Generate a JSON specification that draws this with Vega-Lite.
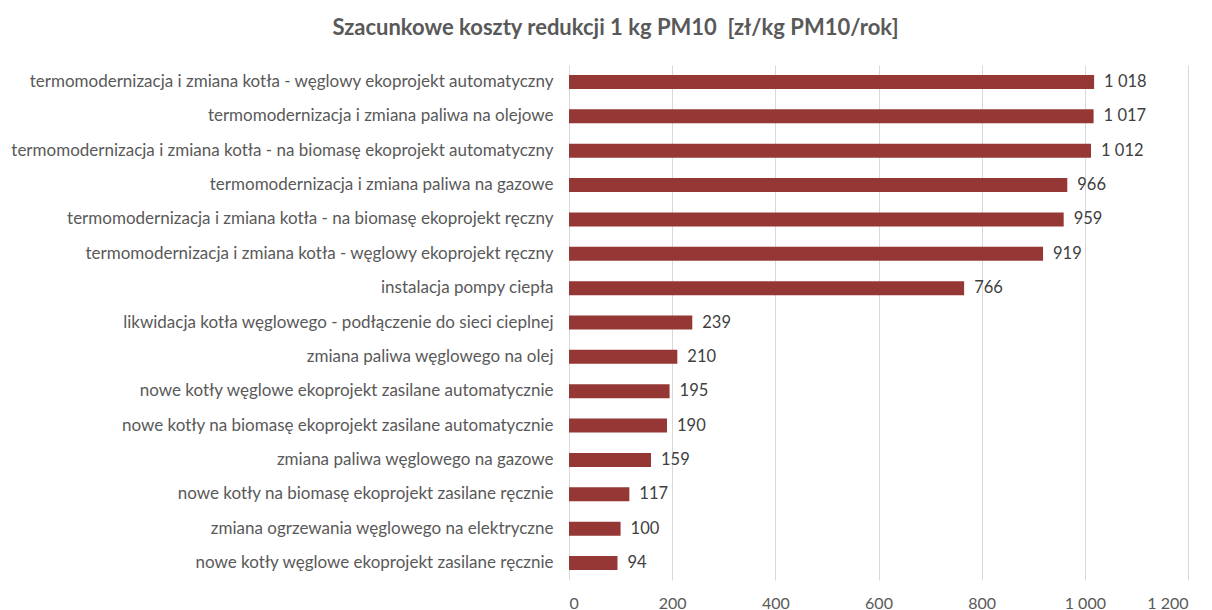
{
  "$schema": "https://vega.github.io/schema/vega-lite/v6.json",
  "width": 619,
  "height": 515,
  "autosize": {"type": "none"},
  "padding": {"left": 569, "top": 65, "right": 24, "bottom": 30},
  "background": "white",
  "title": {
    "text": "Szacunkowe koszty redukcji 1 kg PM10 \u00a0[zł/kg PM10/rok]",
    "font": "Lato",
    "fontSize": 22,
    "fontWeight": "bold",
    "color": "#595959",
    "anchor": "middle",
    "dx": -263,
    "offset": 25
  },
  "config": {
    "locale": {"number": {"decimal": ",", "thousands": " ", "grouping": [3], "currency": ["", " zł"]}},
    "view": {"stroke": null},
    "font": "Lato"
  },
  "data": {
    "values": [
      {"kategoria": "termomodernizacja i zmiana kotła - węglowy ekoprojekt automatyczny", "koszt": 1018},
      {"kategoria": "termomodernizacja i zmiana paliwa na olejowe", "koszt": 1017},
      {"kategoria": "termomodernizacja i zmiana kotła - na biomasę ekoprojekt automatyczny", "koszt": 1012},
      {"kategoria": "termomodernizacja i zmiana paliwa na gazowe", "koszt": 966},
      {"kategoria": "termomodernizacja i zmiana kotła - na biomasę ekoprojekt ręczny", "koszt": 959},
      {"kategoria": "termomodernizacja i zmiana kotła - węglowy ekoprojekt ręczny", "koszt": 919},
      {"kategoria": "instalacja pompy ciepła", "koszt": 766},
      {"kategoria": "likwidacja kotła węglowego - podłączenie do sieci cieplnej", "koszt": 239},
      {"kategoria": "zmiana paliwa węglowego na olej", "koszt": 210},
      {"kategoria": "nowe kotły węglowe ekoprojekt zasilane automatycznie", "koszt": 195},
      {"kategoria": "nowe kotły na biomasę ekoprojekt zasilane automatycznie", "koszt": 190},
      {"kategoria": "zmiana paliwa węglowego na gazowe", "koszt": 159},
      {"kategoria": "nowe kotły na biomasę ekoprojekt zasilane ręcznie", "koszt": 117},
      {"kategoria": "zmiana ogrzewania węglowego na elektryczne", "koszt": 100},
      {"kategoria": "nowe kotły węglowe ekoprojekt zasilane ręcznie", "koszt": 94}
    ]
  },
  "encoding": {
    "y": {
      "field": "kategoria",
      "type": "nominal",
      "sort": null,
      "scale": {"paddingInner": 0.593, "paddingOuter": 0.29},
      "axis": {
        "title": null,
        "domain": false,
        "ticks": false,
        "labelFont": "Lato",
        "labelFontSize": 17,
        "labelColor": "#595959",
        "labelPadding": 16,
        "labelLimit": 600
      }
    },
    "x": {
      "field": "koszt",
      "type": "quantitative",
      "scale": {"domain": [0, 1200]},
      "axis": {
        "title": null,
        "values": [0, 200, 400, 600, 800, 1000, 1200],
        "format": ",d",
        "domain": false,
        "ticks": false,
        "grid": true,
        "gridColor": "#d9d9d9",
        "gridWidth": 1,
        "labelFont": "Lato",
        "labelFontSize": 16,
        "labelColor": "#595959",
        "labelPadding": 15
      }
    }
  },
  "layer": [
    {"mark": {"type": "bar", "color": "#953735"}},
    {
      "mark": {"type": "text", "align": "left", "baseline": "middle", "dx": 10, "fontSize": 16.5, "font": "Lato", "color": "#404040"},
      "encoding": {"text": {"field": "koszt", "type": "quantitative", "format": ",d"}}
    }
  ]
}
